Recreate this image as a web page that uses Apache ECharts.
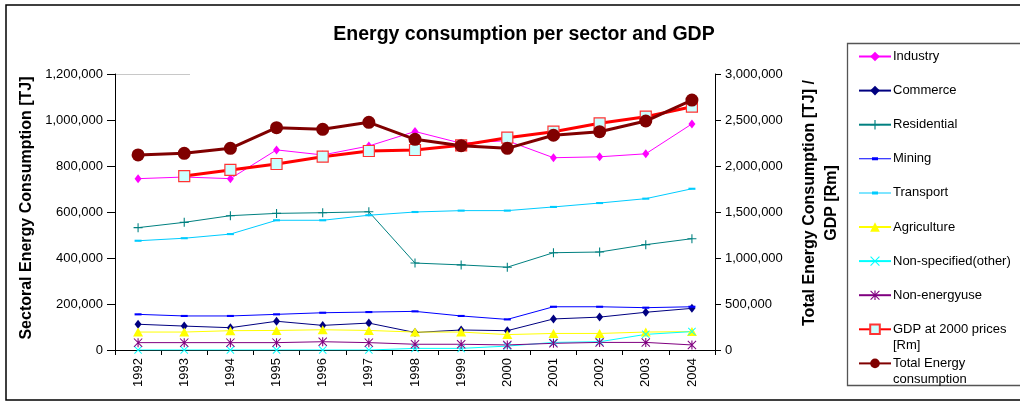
<!DOCTYPE html>
<html>
<head>
<meta charset="utf-8">
<script src="https://cdn.jsdelivr.net/npm/echarts@6/dist/echarts.min.js"></script>
<style>
html,body{margin:0;padding:0;background:#fff;}
#chart{width:1020px;height:403px;}
</style>
</head>
<body>
<div id="chart"></div>
<script>
const years = ['1992','1993','1994','1995','1996','1997','1998','1999','2000','2001','2002','2003','2004'];
const industry = [745000, 752000, 745000, 870000, 848000, 887000, 950000, 899000, 910000, 836000, 840000, 853000, 983000];
const commerce = [112000, 104000, 97000, 125000, 107000, 117000, 76000, 87000, 84000, 135000, 143000, 164000, 181000];
const residential = [532000, 555000, 584000, 594000, 597000, 601000, 378000, 370000, 360000, 423000, 426000, 458000, 484000];
const mining = [155000, 148000, 148000, 155000, 162000, 165000, 168000, 148000, 133000, 188000, 188000, 184000, 188000];
const transport = [475000, 486000, 504000, 564000, 564000, 586000, 600000, 606000, 606000, 622000, 639000, 658000, 701000];
const agriculture = [78000, 78000, 84000, 85000, 88000, 85000, 78000, 78000, 67000, 72000, 72000, 78000, 80000];
const nonSpecified = [0, 0, 0, 0, 0, 0, 7000, 7000, 17000, 33000, 36000, 68000, 80000];
const nonEnergy = [32000, 32000, 32000, 32000, 36000, 32000, 25000, 25000, 22000, 29000, 33000, 33000, 22000];
const gdp = [null, 1891000, 1957000, 2022000, 2101000, 2163000, 2174000, 2225000, 2308000, 2373000, 2464000, 2536000, 2645000];
const totalEnergy = [2120000, 2138000, 2192000, 2417000, 2399000, 2475000, 2290000, 2221000, 2192000, 2334000, 2373000, 2489000, 2717000];

const leftTicks = {min: 0, max: 1200000, interval: 200000};
const rightTicks = {min: 0, max: 3000000, interval: 500000};

const FONT = '"Liberation Sans", Arial, sans-serif';
const PLUS = 'path://M4.4,0H5.6V4.4H10V5.6H5.6V10H4.4V5.6H0V4.4H4.4Z';
const XMARK = 'path://M0.8,0L10,9.2L9.2,10L0,0.8Z M9.2,0L10,0.8L0.8,10L0,9.2Z';
const ASTER = 'path://M0.8,0L10,9.2L9.2,10L0,0.8Z M9.2,0L10,0.8L0.8,10L0,9.2Z M4.4,0H5.6V10H4.4Z';
const DASH = 'path://M0,0H10V3H0Z';
const DASH_LEGEND = 'path://M0,1H32V2H0Z M13,0H19V3H13Z';

function fmt(v){ return Number(v).toLocaleString('en-US'); }

function sector(name, data, color, symbol, size, keep){
  return {
    name, type: 'line', data, yAxisIndex: 0,
    symbol, symbolSize: size, showSymbol: true, symbolKeepAspect: !!keep,
    lineStyle: {color, width: 1},
    itemStyle: {color},
    emphasis: {disabled: true},
    animation: false, z: 2
  };
}

const chart = echarts.init(document.getElementById('chart'));
const option = {
  backgroundColor: '#fff',
  animation: false,
  textStyle: {fontFamily: FONT, color: '#000'},
  title: {
    text: 'Energy consumption per sector and GDP',
    left: 519, top: 20, textAlign: 'center',
    textStyle: {fontFamily: FONT, fontSize: 19.5, fontWeight: 'bold', color: '#000'}
  },
  grid: {left: 115, right: 305, top: 74, bottom: 53},
  legend: {
    orient: 'vertical', left: 853, top: 45,
    itemWidth: 32, itemHeight: 12, itemGap: 21.1,
    textStyle: {fontFamily: FONT, fontSize: 13, color: '#000', padding: [0,0,0,-3]},
    data: [
      'Industry', 'Commerce', 'Residential',
      {name: 'Mining', icon: DASH_LEGEND},
      {name: 'Transport', icon: DASH_LEGEND},
      'Agriculture', 'Non-specified(other)', 'Non-energyuse',
      'GDP at 2000 prices [Rm]', 'Total Energy consumption'
    ],
    formatter: function(n){
      if (n === 'GDP at 2000 prices [Rm]') return 'GDP at 2000 prices';
      if (n === 'Total Energy consumption') return 'Total Energy';
      return n;
    },
    selectedMode: false
  },
  xAxis: {
    type: 'category', data: years, boundaryGap: true,
    axisLine: {lineStyle: {color: '#000', width: 1}},
    axisTick: {show: true, length: 5, lineStyle: {color: '#000'}},
    axisLabel: {rotate: 90, fontSize: 13, color: '#000', fontFamily: FONT, margin: 8}
  },
  yAxis: [
    {
      type: 'value', position: 'left',
      min: leftTicks.min, max: leftTicks.max, interval: leftTicks.interval,
      name: 'Sectoral Energy Consumption [TJ]', nameLocation: 'middle', nameRotate: 90, nameGap: 71,
      nameTextStyle: {fontFamily: FONT, fontSize: 16, fontWeight: 'bold', color: '#000', padding: [0,0,0,8]},
      axisLine: {show: true, lineStyle: {color: '#000'}},
      axisTick: {show: true, length: 8, lineStyle: {color: '#000'}},
      axisLabel: {fontSize: 13, color: '#000', fontFamily: FONT, margin: 12, formatter: fmt},
      splitLine: {show: false}
    },
    {
      type: 'value', position: 'right',
      min: rightTicks.min, max: rightTicks.max, interval: rightTicks.interval,
      name: 'Total Energy Consumption [TJ] /\nGDP [Rm]', nameLocation: 'middle', nameRotate: 90, nameGap: 84,
      nameTextStyle: {fontFamily: FONT, fontSize: 16, fontWeight: 'bold', color: '#000', lineHeight: 22, padding: [0,0,0,18]},
      axisLine: {show: true, lineStyle: {color: '#000'}},
      axisTick: {show: true, length: 6, lineStyle: {color: '#000'}},
      axisLabel: {fontSize: 13, color: '#000', fontFamily: FONT, margin: 10, formatter: fmt},
      splitLine: {show: false}
    }
  ],
  series: [
    sector('Industry', industry, '#FF00FF', 'diamond', [7, 9]),
    sector('Commerce', commerce, '#000080', 'diamond', [7, 9]),
    sector('Residential', residential, '#008080', PLUS, 9),
    sector('Mining', mining, '#0000FF', DASH, 7, true),
    sector('Transport', transport, '#00CCFF', DASH, 7, true),
    sector('Agriculture', agriculture, '#FFFF00', 'triangle', [10, 9]),
    sector('Non-specified(other)', nonSpecified, '#00FFFF', XMARK, 8),
    sector('Non-energyuse', nonEnergy, '#800080', ASTER, 9),
    {
      name: 'GDP at 2000 prices [Rm]', type: 'line', data: gdp, yAxisIndex: 1,
      symbol: 'rect', symbolSize: 11, showSymbol: true,
      lineStyle: {color: '#FF0000', width: 3},
      itemStyle: {color: '#CCFFFF', borderColor: '#FF3333', borderWidth: 1.2},
      emphasis: {disabled: true}, z: 3
    },
    {
      name: 'Total Energy consumption', type: 'line', data: totalEnergy, yAxisIndex: 1,
      symbol: 'circle', symbolSize: 13, showSymbol: true,
      lineStyle: {color: '#800000', width: 3},
      itemStyle: {color: '#800000'},
      emphasis: {disabled: true}, z: 4
    }
  ],
  graphic: [
    {type: 'rect', shape: {x: 6, y: 5, width: 1030, height: 395}, style: {fill: 'none', stroke: '#000', lineWidth: 1.5}, z: -1, silent: true},
    {type: 'rect', shape: {x: 847.5, y: 43.5, width: 200, height: 342}, style: {fill: 'none', stroke: '#555', lineWidth: 1.3}, z: -1, silent: true},
    {type: 'line', shape: {x1: 116, y1: 74.5, x2: 190, y2: 74.5}, style: {stroke: '#c8c8c8', lineWidth: 1}, silent: true},
    {type: 'text', x: 893, y: 345, style: {text: '[Rm]', font: '13px ' + FONT, fill: '#000', verticalAlign: 'middle'}, silent: true},
    {type: 'text', x: 893, y: 379, style: {text: 'consumption', font: '13px ' + FONT, fill: '#000', verticalAlign: 'middle'}, silent: true}
  ]
};
chart.setOption(option);
</script>
</body>
</html>
